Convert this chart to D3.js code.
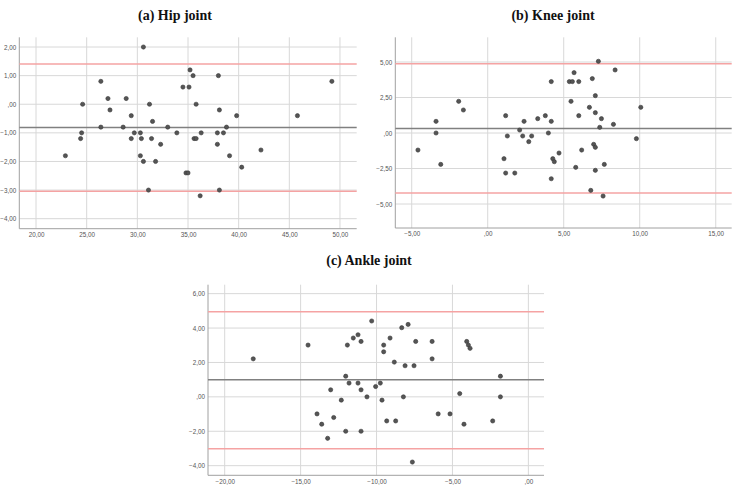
<!DOCTYPE html>
<html>
<head>
<meta charset="utf-8">
<script src="https://cdn.jsdelivr.net/npm/d3@7/dist/d3.min.js"></script>
<style>
  body { margin: 0; background: #fff; }
  svg { display: block; }
  .tick-label { font-family: "Liberation Sans", Arial, sans-serif; font-size: 6.3px; fill: #555; }
  .title { font-family: "Liberation Serif", "DejaVu Serif", serif; font-weight: bold; font-size: 14px; fill: #111; }
</style>
</head>
<body>
<script>
// ---- data ----
var hipX = [30.6, 26.4, 24.6, 27.1, 27.3, 28.9, 29.4, 31.2, 31.5, 26.4, 28.6, 33.0, 24.5, 24.4,
  29.7, 30.3, 29.4, 30.4, 31.4, 33.9, 32.3, 22.9, 30.3, 30.6, 31.8, 31.1,
  35.2, 35.5, 38.0, 34.5, 35.1, 35.8, 38.1, 39.8, 45.8, 49.2, 38.8, 36.3, 37.9, 38.5,
  35.6, 35.8, 37.9, 42.2, 39.1, 40.3, 34.8, 35.0, 38.1, 36.2];
var hipY = [2.0, 0.8, 0.0, 0.2, -0.2, 0.2, -0.4, 0.0, -0.6, -0.8, -0.8, -0.8, -1.0, -1.2,
  -1.0, -1.0, -1.2, -1.2, -1.2, -1.0, -1.4, -1.8, -1.8, -2.0, -2.0, -3.0,
  1.2, 1.0, 1.0, 0.6, 0.6, 0.0, -0.2, -0.4, -0.4, 0.8, -0.8, -1.0, -1.0, -1.0,
  -1.2, -1.2, -1.4, -1.6, -1.8, -2.2, -2.4, -2.4, -3.0, -3.2];
var hipLimits = { mean: -0.81, upper: 1.41, lower: -3.04 };
var hipXTicks = [20, 25, 30, 35, 40, 45, 50];
var hipYTicks = [2, 1, 0, -1, -2, -3, -4];

var kneeX = [-4.59, -3.40, -3.40, -3.09, -1.91, -1.60, 1.18, 1.29, 1.07, 1.18, 1.78, 2.10, 2.39,
  2.30, 2.70, 2.89, 3.29, 3.79, 3.99, 4.18, 4.18, 7.28, 8.38, 5.68, 5.37, 5.57, 5.99, 6.88,
  7.08, 5.48, 6.69, 10.07, 7.08, 5.99, 7.48, 8.27, 7.37, 9.78, 6.97, 7.08, 4.69, 6.18, 4.28,
  4.38, 7.67, 5.79, 7.08, 4.18, 6.78, 7.59];
var kneeY = [-1.20, 0.82, 0.0, -2.21, 2.23, 1.62, 1.22, -0.21, -1.81, -2.82, -2.82, 0.21, 0.82,
  -0.21, -0.61, -0.21, 1.01, 1.22, 0.0, 0.82, 3.62, 5.05, 4.44, 4.25, 3.62, 3.62, 3.62, 3.83,
  2.63, 2.23, 1.81, 1.81, 1.43, 1.22, 1.01, 0.61, 0.40, -0.40, -0.80, -1.01, -1.41, -1.20, -1.81,
  -2.02, -2.21, -2.42, -2.63, -3.22, -4.04, -4.44];
var kneeLimits = { mean: 0.31, upper: 4.88, lower: -4.23 };
var kneeXTicks = [-5, 0, 5, 10, 15];
var kneeYTicks = [5, 2.5, 0, -2.5, -5];

var ankleX = [-18.12, -14.51, -11.92, -11.53, -11.22, -11.02, -12.03, -11.81, -11.22, -11.02,
  -13.02, -10.63, -12.32, -13.92, -12.82, -13.61, -12.03, -11.02, -13.22,
  -10.32, -8.34, -7.92, -9.11, -9.53, -9.53, -7.42, -6.34, -6.34, -8.83, -8.12, -7.53,
  -4.06, -3.95, -3.84, -1.84, -1.84, -9.75, -10.06, -8.23, -9.64, -4.52, -5.94, -5.16,
  -4.24, -9.33, -8.74, -2.35, -7.64];
var ankleY = [2.21, 3.01, 3.01, 3.42, 3.61, 3.22, 1.20, 0.80, 0.80, 0.41,
  0.41, 0.0, -0.19, -0.99, -1.20, -1.59, -2.0, -2.0, -2.41,
  4.41, 4.02, 4.21, 3.42, 3.01, 2.62, 3.22, 3.22, 2.21, 2.02, 1.81, 1.81,
  3.22, 3.01, 2.82, 1.20, 0.0, 0.80, 0.60, 0.0, -0.19, 0.19, -0.99, -0.99,
  -1.59, -1.40, -1.40, -1.40, -3.79];
var ankleLimits = { mean: 0.99, upper: 4.95, lower: -3.02 };
var ankleXTicks = [-20, -15, -10, -5, 0];
var ankleYTicks = [6, 4, 2, 0, -2, -4];

// ---- layout ----
var W = 738, H = 492;
var svg = d3.select("body").append("svg").attr("width", W).attr("height", H);

// SPSS-style labels: decimal comma, ",00" for zero
function fmt(v) {
  var s = d3.format(".2f")(v).replace(".", ",");
  if (s === "0,00" || s === "-0,00") s = ",00";
  return s;
}

function panel(opt) {
  var x = d3.scaleLinear().domain(opt.xDomain).range([opt.left, opt.right]);
  var y = d3.scaleLinear().domain(opt.yDomain).range([opt.bottom, opt.top]);
  var g = svg.append("g");

  // grid
  g.selectAll("line.hgrid").data(opt.yTicks).enter().append("line")
    .attr("class", "hgrid")
    .attr("x1", opt.left).attr("x2", opt.right)
    .attr("y1", function(d) { return y(d); }).attr("y2", function(d) { return y(d); })
    .attr("stroke", "#d8d8d8").attr("stroke-width", 1);
  g.selectAll("line.vgrid").data(opt.xTicks).enter().append("line")
    .attr("class", "vgrid")
    .attr("y1", opt.top).attr("y2", opt.bottom)
    .attr("x1", function(d) { return x(d); }).attr("x2", function(d) { return x(d); })
    .attr("stroke", "#d8d8d8").attr("stroke-width", 1);

  // axes (no tick marks, just labels)
  var xAxis = d3.axisBottom(x).tickValues(opt.xTicks).tickFormat(fmt).tickSize(0).tickPadding(4);
  var gx = g.append("g").attr("transform", "translate(0," + opt.bottom + ")").call(xAxis);
  gx.select(".domain").remove();
  gx.selectAll("text").attr("class", "tick-label").attr("fill", null);

  var yAxis = d3.axisLeft(y).tickValues(opt.yTicks).tickFormat(fmt).tickSize(0).tickPadding(3);
  var gy = g.append("g").attr("transform", "translate(" + opt.left + ",0)").call(yAxis);
  gy.select(".domain").remove();
  gy.selectAll("text").attr("class", "tick-label").attr("fill", null);

  g.append("line").attr("x1", opt.left).attr("x2", opt.left)
    .attr("y1", opt.top).attr("y2", opt.bottom).attr("stroke", "#a0a0a0");
  g.append("line").attr("x1", opt.left).attr("x2", opt.right)
    .attr("y1", opt.bottom).attr("y2", opt.bottom).attr("stroke", "#a0a0a0");

  // limits of agreement + mean difference
  var refs = [
    { v: opt.limits.upper, c: "#f5a3a3" },
    { v: opt.limits.lower, c: "#f5a3a3" },
    { v: opt.limits.mean, c: "#808080" }
  ];
  g.selectAll("line.ref").data(refs).enter().append("line")
    .attr("class", "ref")
    .attr("x1", opt.left).attr("x2", opt.right)
    .attr("y1", function(d) { return y(d.v); }).attr("y2", function(d) { return y(d.v); })
    .attr("stroke", function(d) { return d.c; }).attr("stroke-width", 1.5);

  // points
  g.selectAll("circle").data(opt.xs).enter().append("circle")
    .attr("cx", function(d) { return x(d); })
    .attr("cy", function(d, i) { return y(opt.ys[i]); })
    .attr("r", 2.1)
    .attr("fill", "#555").attr("stroke", "#383838").attr("stroke-width", 0.6);

  svg.append("text").attr("class", "title")
    .attr("x", opt.titleX).attr("y", opt.titleY)
    .attr("text-anchor", "middle").text(opt.title);
}

panel({ title: "(a) Hip joint", titleX: 175, titleY: 20,
  left: 19.3, right: 356.7, top: 37.3, bottom: 228.7,
  xDomain: [18.35, 51.65], yDomain: [-4.35, 2.34],
  xTicks: hipXTicks, yTicks: hipYTicks, xs: hipX, ys: hipY, limits: hipLimits });

panel({ title: "(b) Knee joint", titleX: 553, titleY: 20,
  left: 395.3, right: 731.7, top: 37.3, bottom: 228,
  xDomain: [-6.08, 16.05], yDomain: [-6.69, 6.74],
  xTicks: kneeXTicks, yTicks: kneeYTicks, xs: kneeX, ys: kneeY, limits: kneeLimits });

panel({ title: "(c) Ankle joint", titleX: 369, titleY: 265,
  left: 208, right: 544, top: 284.7, bottom: 475.3,
  xDomain: [-21.1, 1.03], yDomain: [-4.56, 6.52],
  xTicks: ankleXTicks, yTicks: ankleYTicks, xs: ankleX, ys: ankleY, limits: ankleLimits });
</script>
</body>
</html>
